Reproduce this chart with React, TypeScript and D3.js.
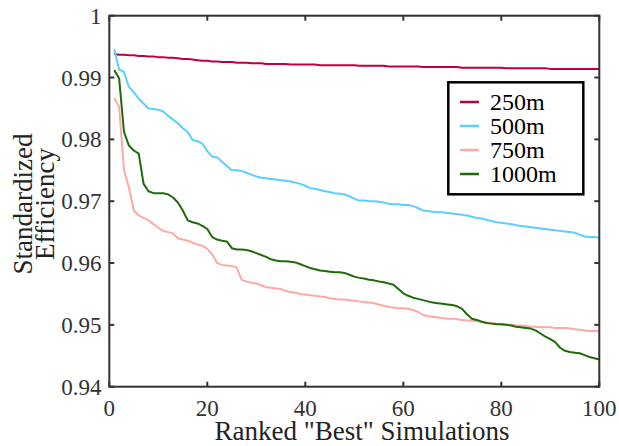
import React, { useEffect, useState } from "react";
import * as d3 from "d3";

const ranks: number[] = d3.range(1, 101);

const series250: number[] = [
  0.9938, 0.9937, 0.9937, 0.9936, 0.9936, 0.9935, 0.9935, 0.9934, 0.9934, 0.9933,
  0.9933, 0.9932, 0.9932, 0.9931, 0.9930, 0.9930, 0.9929, 0.9928, 0.9927, 0.9927,
  0.9926, 0.9926, 0.9925, 0.9925, 0.9925, 0.9924, 0.9924, 0.9924, 0.9923, 0.9923,
  0.9923, 0.9922, 0.9922, 0.9922, 0.9922, 0.9922, 0.9921, 0.9921, 0.9921, 0.9921,
  0.9921, 0.9921, 0.9920, 0.9920, 0.9920, 0.9920, 0.9920, 0.9920, 0.9920, 0.9920,
  0.9919, 0.9919, 0.9919, 0.9919, 0.9919, 0.9919, 0.9918, 0.9918, 0.9918, 0.9918,
  0.9918, 0.9918, 0.9918, 0.9917, 0.9917, 0.9917, 0.9917, 0.9917, 0.9917, 0.9917,
  0.9917, 0.9916, 0.9916, 0.9916, 0.9916, 0.9916, 0.9916, 0.9916, 0.9916, 0.9916,
  0.9915, 0.9915, 0.9915, 0.9915, 0.9915, 0.9915, 0.9915, 0.9915, 0.9915, 0.9914,
  0.9914, 0.9914, 0.9914, 0.9914, 0.9914, 0.9914, 0.9914, 0.9914, 0.9914, 0.9914,
];

const series500: number[] = [
  0.9946, 0.9913, 0.9909, 0.9885, 0.9876, 0.9866, 0.9858, 0.9850, 0.9849, 0.9848,
  0.9845, 0.9838, 0.9832, 0.9826, 0.9818, 0.9812, 0.9799, 0.9797, 0.9793, 0.9781,
  0.9772, 0.9771, 0.9764, 0.9757, 0.9750, 0.9750, 0.9749, 0.9746, 0.9743, 0.9740,
  0.9738, 0.9737, 0.9736, 0.9735, 0.9734, 0.9733, 0.9732, 0.9730, 0.9728, 0.9725,
  0.9721, 0.9720, 0.9718, 0.9716, 0.9715, 0.9713, 0.9712, 0.9711, 0.9708, 0.9704,
  0.9701, 0.9701, 0.9700, 0.9700, 0.9699, 0.9698, 0.9696, 0.9695, 0.9695, 0.9694,
  0.9694, 0.9692, 0.9689, 0.9685, 0.9684, 0.9683, 0.9682, 0.9682, 0.9681, 0.9680,
  0.9679, 0.9678, 0.9677, 0.9675, 0.9673, 0.9672, 0.9670, 0.9668, 0.9666, 0.9665,
  0.9664, 0.9663, 0.9661, 0.9660, 0.9659, 0.9658, 0.9657, 0.9656, 0.9655, 0.9654,
  0.9653, 0.9652, 0.9651, 0.9650, 0.9649, 0.9646, 0.9643, 0.9642, 0.9642, 0.9641,
];

const series750: number[] = [
  0.9867, 0.9853, 0.9750, 0.9722, 0.9685, 0.9677, 0.9673, 0.9669, 0.9663, 0.9657,
  0.9652, 0.9650, 0.9648, 0.9640, 0.9638, 0.9636, 0.9633, 0.9630, 0.9628, 0.9623,
  0.9614, 0.9600, 0.9597, 0.9596, 0.9595, 0.9593, 0.9573, 0.9570, 0.9568, 0.9567,
  0.9564, 0.9561, 0.9560, 0.9559, 0.9558, 0.9555, 0.9553, 0.9552, 0.9550, 0.9549,
  0.9548, 0.9547, 0.9546, 0.9545, 0.9543, 0.9542, 0.9541, 0.9541, 0.9540, 0.9539,
  0.9538, 0.9537, 0.9536, 0.9535, 0.9533, 0.9531, 0.9529, 0.9528, 0.9527, 0.9527,
  0.9526, 0.9524, 0.9521, 0.9516, 0.9514, 0.9513, 0.9512, 0.9511, 0.9510, 0.9510,
  0.9509, 0.9508, 0.9507, 0.9507, 0.9506, 0.9505, 0.9504, 0.9503, 0.9502, 0.9501,
  0.9500, 0.9500, 0.9499, 0.9499, 0.9498, 0.9497, 0.9497, 0.9496, 0.9496, 0.9496,
  0.9495, 0.9495, 0.9495, 0.9494, 0.9493, 0.9492, 0.9491, 0.9490, 0.9490, 0.9490,
];

const series1000: number[] = [
  0.9912, 0.9899, 0.9812, 0.9790, 0.9782, 0.9777, 0.9728, 0.9716, 0.9713, 0.9713,
  0.9713, 0.9711, 0.9706, 0.9698, 0.9685, 0.9669, 0.9666, 0.9664, 0.9660, 0.9655,
  0.9642, 0.9638, 0.9636, 0.9635, 0.9624, 0.9622, 0.9622, 0.9621, 0.9619, 0.9616,
  0.9613, 0.9610, 0.9606, 0.9604, 0.9603, 0.9603, 0.9602, 0.9601, 0.9598, 0.9595,
  0.9592, 0.9590, 0.9588, 0.9587, 0.9586, 0.9585, 0.9585, 0.9584, 0.9581, 0.9578,
  0.9576, 0.9575, 0.9573, 0.9572, 0.9570, 0.9569, 0.9567, 0.9565, 0.9558, 0.9551,
  0.9547, 0.9544, 0.9542, 0.9540, 0.9538, 0.9536, 0.9535, 0.9534, 0.9533, 0.9532,
  0.9530, 0.9526, 0.9517, 0.9510, 0.9508, 0.9505, 0.9503, 0.9502, 0.9501, 0.9501,
  0.9500, 0.9499, 0.9497, 0.9496, 0.9495, 0.9494, 0.9491, 0.9486, 0.9481, 0.9477,
  0.9472, 0.9463, 0.9458, 0.9456, 0.9455, 0.9454, 0.9451, 0.9448, 0.9446, 0.9444,
];

const seriesNames: string[] = ["250m", "500m", "750m", "1000m"];
const seriesColors: string[] = ["#c0003c", "#5ccfff", "#ffa8a8", "#1e6b0a"];
const xTicks: number[] = [0, 20, 40, 60, 80, 100];
const yTicks: number[] = [0.94, 0.95, 0.96, 0.97, 0.98, 0.99, 1];

const W = 619;
const H = 446;
const L = 109.3, R = 599.3, T = 15.7, B = 386.7;
const FONT = "Liberation Serif";

export default function App() {
  const [, setTick] = useState(0);
  useEffect(() => {
    const fonts = (document as any).fonts;
    if (fonts && fonts.load) {
      Promise.all([fonts.load("23px 'Liberation Serif'"), fonts.load("27px 'Liberation Serif'")])
        .then(() => setTick((v) => v + 1))
        .catch(() => {});
    }
  }, []);

  const x = d3.scaleLinear().domain([0, 100]).range([L, R]);
  const y = d3.scaleLinear().domain([0.94, 1]).range([B, T]);
  const allSeries = [series250, series500, series750, series1000];
  const line = d3
    .line<number>()
    .x((_, i) => x(ranks[i]))
    .y((d) => y(d));
  const axisColor = "#333";
  const tickLen = 5;
  const yFmt = (v: number) => (v === 1 ? "1" : d3.format(".2f")(v));
  const ts = (size: number) => ({ fontFamily: FONT, fontSize: size + "px" });

  const legX = 448.3, legY = 82.3, legW = 135, legH = 112;
  const rowY = [102, 126, 150, 174];

  return (
    <svg width={W} height={H} style={{ position: "absolute", left: 0, top: 0, background: "#fff" }}>
      <rect x={0} y={0} width={W} height={H} fill="#fff" />
      <defs>
        <clipPath id="plotclip">
          <rect x={L} y={T} width={R - L} height={B - T} />
        </clipPath>
      </defs>
      <g clipPath="url(#plotclip)">
        {allSeries.map((s, k) => (
          <path
            key={k}
            d={line(s) || ""}
            fill="none"
            stroke={seriesColors[k]}
            strokeWidth={2}
            strokeLinejoin="round"
          />
        ))}
      </g>
      <rect x={L} y={T} width={R - L} height={B - T} fill="none" stroke={axisColor} strokeWidth={2} />
      {xTicks.map((t) => (
        <g key={"x" + t}>
          <line x1={x(t)} x2={x(t)} y1={B} y2={B - tickLen} stroke={axisColor} strokeWidth={2} />
          <line x1={x(t)} x2={x(t)} y1={T} y2={T + tickLen} stroke={axisColor} strokeWidth={2} />
          <text x={x(t)} y={415.5} textAnchor="middle" fontFamily={FONT} fontSize={23} style={ts(23)} fill="#333">
            {t}
          </text>
        </g>
      ))}
      {yTicks.map((t) => (
        <g key={"y" + t}>
          <line x1={L} x2={L + tickLen} y1={y(t)} y2={y(t)} stroke={axisColor} strokeWidth={2} />
          <line x1={R} x2={R - tickLen} y1={y(t)} y2={y(t)} stroke={axisColor} strokeWidth={2} />
          <text x={101.5} y={y(t)} dy="0.35em" textAnchor="end" fontFamily={FONT} fontSize={23} style={ts(23)} fill="#333">
            {yFmt(t)}
          </text>
        </g>
      ))}
      <text x={362} y={440} textAnchor="middle" fontFamily={FONT} fontSize={27} style={ts(27)} fill="#222">
        Ranked "Best" Simulations
      </text>
      <g transform="translate(32,204) rotate(-90)">
        <text x={0} y={0} textAnchor="middle" fontFamily={FONT} fontSize={27} style={ts(27)} fill="#222">
          Standardized
        </text>
      </g>
      <g transform="translate(54,204) rotate(-90)">
        <text x={0} y={0} textAnchor="middle" fontFamily={FONT} fontSize={27} style={ts(27)} fill="#222">
          Efficiency
        </text>
      </g>
      <rect x={legX} y={legY} width={legW} height={legH} fill="#fff" stroke="#000" strokeWidth={2.5} />
      {seriesNames.map((n, k) => (
        <g key={n}>
          <line x1={460} x2={479} y1={rowY[k]} y2={rowY[k]} stroke={seriesColors[k]} strokeWidth={2.5} />
          <text x={490} y={rowY[k]} dy="0.35em" fontFamily={FONT} fontSize={24} style={ts(24)} fill="#000">
            {n}
          </text>
        </g>
      ))}
    </svg>
  );
}
